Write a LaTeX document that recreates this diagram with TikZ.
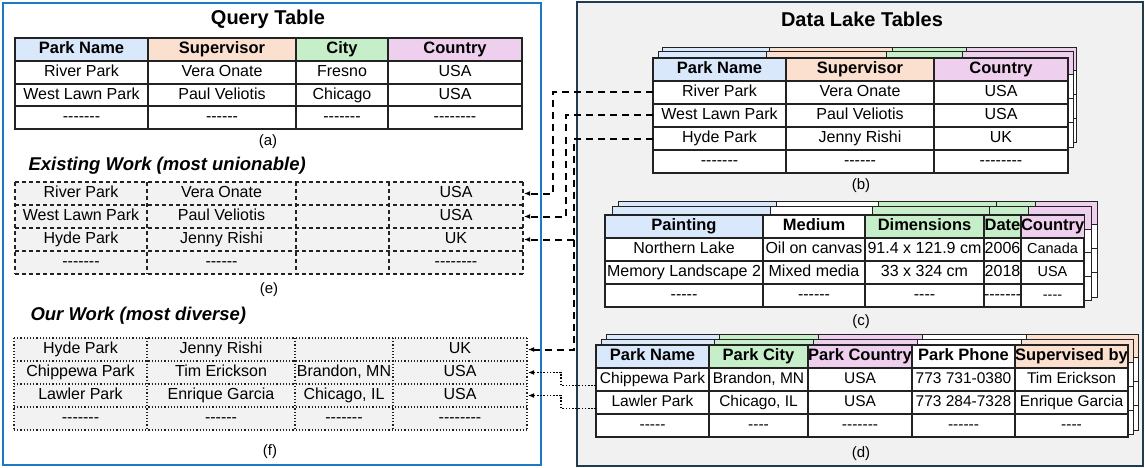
\documentclass[tikz,border=0pt]{standalone}
\usepackage{fontspec}
\setmainfont{Liberation Sans}
\usetikzlibrary{arrows.meta,calc}
\definecolor{hblue}{HTML}{DAE8FC}
\definecolor{hpeach}{HTML}{FBDFCF}
\definecolor{hgreen}{HTML}{C6EFC9}
\definecolor{hpink}{HTML}{EFCFEE}
\definecolor{egray}{HTML}{F2F2F2}
\definecolor{panelgray}{HTML}{F1F1F1}
\definecolor{framebl}{HTML}{1E78C8}
\definecolor{framedk}{HTML}{1F3B4D}
\definecolor{tline}{HTML}{222222}
\newcommand{\bodyf}{\fontsize{16}{19}\selectfont}
\newcommand{\dbodyf}{\fontsize{15.5}{18}\selectfont}
\newcommand{\hdrf}{\fontsize{16.5}{19}\selectfont\bfseries}
\newcommand{\titlef}{\fontsize{20}{24}\selectfont\bfseries}
\newcommand{\headf}{\fontsize{18.5}{22}\selectfont\bfseries\itshape}
\newcommand{\capf}{\fontsize{15}{18}\selectfont}
\newcommand{\smf}{\fontsize{14.5}{17}\selectfont}
\ExplSyntaxOn
\NewDocumentCommand{\dsh}{m}{\prg_replicate:nn{#1}{-\kern0pt}}
\ExplSyntaxOff
% #1 style, #2 table, #3 row, #4 ytop, #5 ybot, #6 cells xa/xb/fill/text
\newcommand{\trow}[6][]{%
  \foreach \xa/\xb/\fc/\tx [count=\cc] in {#6}{%
    \node[cell,#1,fill=\fc,minimum width={(\xb-\xa)*1pt},minimum height={(#5-#4)*1pt}] (#2-#3-\cc) at (\xa,#4) {\tx};}}
% shadow table: #1 x0 #2 xn #3 ytop #4 yhdr #5 ybot #6 header cells xa/xb/fill
\newcommand{\shtab}[6]{%
  \draw[shl,fill=white] (#1,#4) rectangle (#2,#5);
  \foreach \xa/\xb/\fc in {#6}{\draw[shl,fill=\fc] (\xa,#3) rectangle (\xb,#4);}
  \pgfmathsetmacro{\rh}{(#5-#4)/3}
  \foreach \k in {1,2}{\draw[shl] (#1,{#4+\k*\rh}) -- (#2,{#4+\k*\rh});}}
\begin{document}
\begin{tikzpicture}[x=1pt,y=-1pt,
  cell/.style={anchor=north west,inner sep=0pt,outer sep=0pt,font=\bodyf,text=black,text height=11.6pt,text depth=3.4pt},
  tdraw/.style={draw=tline,line width=1.2pt},
  hdr/.style={tdraw,font=\hdrf},
  dconn/.style={draw=black,line width=2pt,dash pattern=on 7pt off 5pt,-{Latex[length=6pt,width=5pt]},shorten >=1pt},
  pconn/.style={draw=black,line width=1.6pt,dash pattern=on 1.6pt off 1.6pt,-{Latex[length=6pt,width=5pt]},shorten >=1pt},
  egrid/.style={draw=tline,line width=1.2pt,dash pattern=on 4pt off 3pt},
  fgrid/.style={draw=tline,line width=1.2pt,dash pattern=on 1.2pt off 2pt},
  shl/.style={draw=tline,line width=1pt},
  lbl/.style={font=\capf},
  heading/.style={font=\headf,anchor=west}]
\useasboundingbox (0,0) rectangle (1145,468);

% panels
\draw[draw=framebl,line width=2pt] (3,3) rectangle (541,465);
\draw[draw=framedk,line width=2pt,fill=panelgray] (577,2) rectangle (1143,466);

% ---------- left panel ----------
\node[font=\titlef] (qtitle) at (268,19) {Query Table};
\trow[hdr]{q}{1}{38}{61}{15/148/hblue/Park Name, 148/296/hpeach/Supervisor, 296/388/hgreen/City, 388/522/hpink/Country}
\trow[tdraw]{q}{2}{61}{84}{15/148/white/River Park, 148/296/white/Vera Onate, 296/388/white/Fresno, 388/522/white/USA}
\trow[tdraw]{q}{3}{84}{106}{15/148/white/West Lawn Park, 148/296/white/Paul Veliotis, 296/388/white/Chicago, 388/522/white/USA}
\trow[tdraw]{q}{4}{106}{129}{15/148/white/\dsh{7}, 148/296/white/\dsh{6}, 296/388/white/\dsh{7}, 388/522/white/\dsh{8}}
\node[lbl] (la) at (268,142) {(a)};

\node[heading] (hexist) at (25,166) {Existing Work (most unionable)};
\trow{e}{1}{182}{205}{15/147/egray/River Park, 147/296/egray/Vera Onate, 296/389/egray/{}, 389/523/egray/USA}
\trow{e}{2}{205}{228}{15/147/egray/West Lawn Park, 147/296/egray/Paul Veliotis, 296/389/egray/{}, 389/523/egray/USA}
\trow{e}{3}{228}{251}{15/147/egray/Hyde Park, 147/296/egray/Jenny Rishi, 296/389/egray/{}, 389/523/egray/UK}
\trow{e}{4}{251}{274}{15/147/egray/\dsh{7}, 147/296/egray/\dsh{6}, 296/389/egray/{}, 389/523/egray/\dsh{8}}
\foreach \yy in {182,205,228,251,274}{\draw[egrid] (15,\yy) -- (523,\yy);}
\foreach \xx in {15,147,296,389,523}{\draw[egrid] (\xx,182) -- (\xx,274);}
\node[lbl] (le) at (269,290) {(e)};

\node[heading] (hour) at (27,316) {Our Work (most diverse)};
\trow{f}{1}{338}{361}{14/147/egray/Hyde Park, 147/295/egray/Jenny Rishi, 295/393/egray/{}, 393/527/egray/UK}
\trow{f}{2}{361}{384}{14/147/egray/Chippewa Park, 147/295/egray/Tim Erickson, 295/393/egray/{Brandon, MN}, 393/527/egray/USA}
\trow{f}{3}{384}{407}{14/147/egray/Lawler Park, 147/295/egray/Enrique Garcia, 295/393/egray/{Chicago, IL}, 393/527/egray/USA}
\trow{f}{4}{407}{430}{14/147/egray/\dsh{7}, 147/295/egray/\dsh{6}, 295/393/egray/\dsh{7}, 393/527/egray/\dsh{8}}
\foreach \yy in {338,361,384,407,430}{\draw[fgrid] (14,\yy) -- (527,\yy);}
\foreach \xx in {14,147,295,393,527}{\draw[fgrid] (\xx,338) -- (\xx,430);}
\node[lbl] (lf) at (270,452) {(f)};

% ---------- right panel ----------
\node[font=\titlef] (dtitle) at (862,19) {Data Lake Tables};

% table b
\shtab{662}{1076}{48}{71}{142}{662/769/hblue, 769/892/hpeach, 892/966/hgreen, 966/1076/hpink}
\shtab{658}{1073}{52}{75}{147}{658/766/hblue, 766/886/hpeach, 886/962/hgreen, 962/1073/hpink}
\trow[hdr]{b}{1}{58}{81}{653/786/hblue/Park Name, 786/934/hpeach/Supervisor, 934/1068/hpink/Country}
\trow[tdraw]{b}{2}{81}{104}{653/786/white/River Park, 786/934/white/Vera Onate, 934/1068/white/USA}
\trow[tdraw]{b}{3}{104}{127}{653/786/white/West Lawn Park, 786/934/white/Paul Veliotis, 934/1068/white/USA}
\trow[tdraw]{b}{4}{127}{150}{653/786/white/Hyde Park, 786/934/white/Jenny Rishi, 934/1068/white/UK}
\trow[tdraw]{b}{5}{150}{173}{653/786/white/\dsh{7}, 786/934/white/\dsh{6}, 934/1068/white/\dsh{8}}
\node[lbl] (lb) at (861,186) {(b)};

% table c
\shtab{618}{1097}{201}{224}{297}{618/776/hblue, 776/878/white, 878/996/hgreen, 996/1035/hgreen, 1035/1097/hpink}
\shtab{612}{1091}{206}{229}{300}{612/770/hblue, 770/872/white, 872/989/hgreen, 989/1028/hgreen, 1028/1091/hpink}
\trow[hdr]{c}{1}{215}{238}{605/763/hblue/Painting, 763/865/white/Medium, 865/984/hgreen/Dimensions, 984/1021/hgreen/Date, 1021/1084/hpink/Country}
\trow[tdraw]{c}{2}{238}{261}{605/763/white/Northern Lake, 763/865/white/Oil on canvas, 865/984/white/91.4 x 121.9 cm, 984/1021/white/2006, 1021/1084/white/{\smf Canada}}
\trow[tdraw]{c}{3}{261}{284}{605/763/white/Memory Landscape 2, 763/865/white/Mixed media, 865/984/white/33 x 324 cm, 984/1021/white/2018, 1021/1084/white/{\smf USA}}
\trow[tdraw]{c}{4}{284}{307}{605/763/white/\dsh{5}, 763/865/white/\dsh{6}, 865/984/white/\dsh{4}, 984/1021/white/\dsh{7}, 1021/1084/white/{\smf\dsh{4}}}
\node[lbl] (lc) at (861,322) {(c)};

% table d
\shtab{606}{1138}{334}{357}{430}{606/719/hblue, 719/818/hgreen, 818/922/hpink, 922/1026/white, 1026/1138/hpeach}
\shtab{601}{1133}{339}{362}{434}{601/714/hblue, 714/813/hgreen, 813/917/hpink, 917/1021/white, 1021/1133/hpeach}
\trow[hdr]{d}{1}{345}{368}{596/709/hblue/Park Name, 709/808/hgreen/Park City, 808/912/hpink/Park Country, 912/1015/white/Park Phone, 1015/1128/hpeach/Supervised by}
\trow[tdraw,font=\dbodyf]{d}{2}{368}{391}{596/709/white/Chippewa Park, 709/808/white/{Brandon, MN}, 808/912/white/USA, 912/1015/white/773 731-0380, 1015/1128/white/Tim Erickson}
\trow[tdraw,font=\dbodyf]{d}{3}{391}{414}{596/709/white/Lawler Park, 709/808/white/{Chicago, IL}, 808/912/white/USA, 912/1015/white/773 284-7328, 1015/1128/white/Enrique Garcia}
\trow[tdraw,font=\dbodyf]{d}{4}{414}{437}{596/709/white/\dsh{5}, 709/808/white/\dsh{4}, 808/912/white/\dsh{7}, 912/1015/white/\dsh{6}, 1015/1128/white/\dsh{4}}
\node[lbl] (ld) at (861,454) {(d)};

% ---------- connectors ----------
\coordinate (vR) at (553,0);
\coordinate (vW) at (566,0);
\coordinate (vH) at (574,0);
\coordinate (vD) at (561,0);
\draw[dconn] (b-2-1.west) -- (b-2-1.west -| vR) |- (e-1-4.east);
\draw[dconn] (b-3-1.west) -- (b-3-1.west -| vW) |- (e-2-4.east);
\draw[dconn] (b-4-1.west) -- (b-4-1.west -| vH) |- (e-3-4.east);
\draw[dconn] (b-4-1.west) -- (b-4-1.west -| vH) |- (f-1-4.east);
\coordinate (c1) at ([yshift=-6pt]d-2-1.west);
\coordinate (c2) at ([yshift=-6pt]d-3-1.west);
\draw[pconn] (c1) -- (c1 -| vD) |- (f-2-4.east);
\draw[pconn] (c2) -- (c2 -| vD) |- (f-3-4.east);
\end{tikzpicture}
\end{document}
